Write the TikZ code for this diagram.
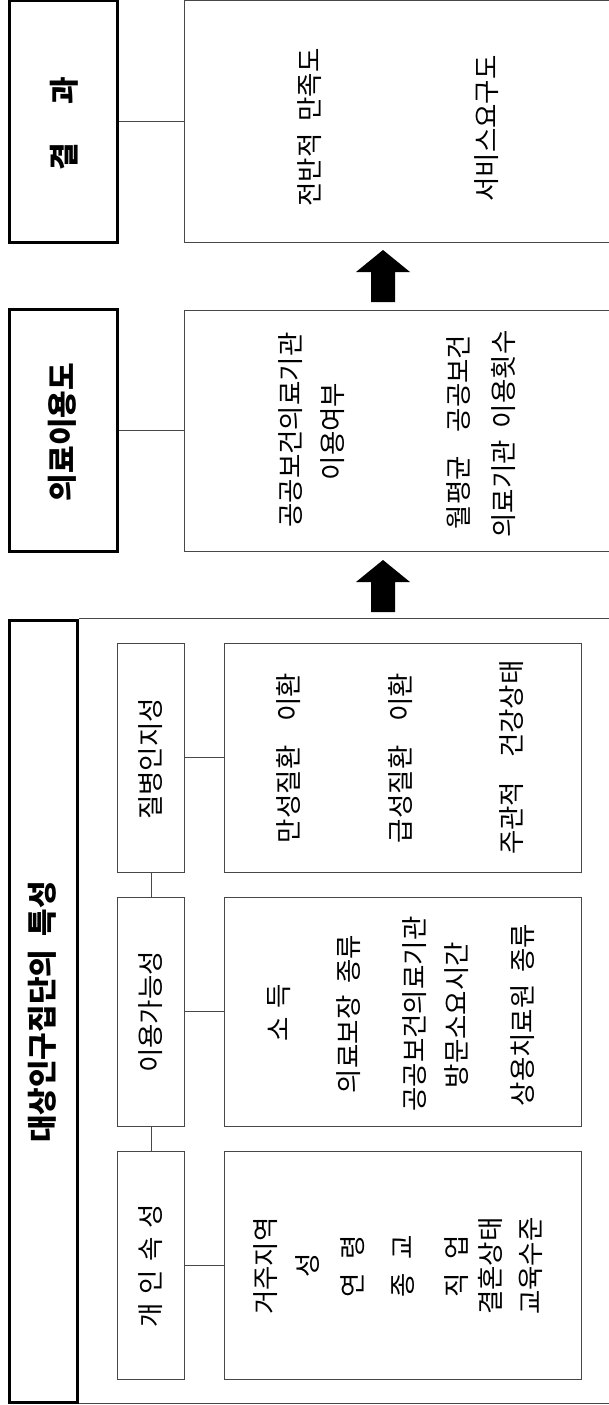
\documentclass[tikz,border=0pt]{standalone}
\usepackage{fontspec}
\newfontfamily\kr{Noto Sans CJK KR}
\newcommand\gap{\hspace{0.45em}}
\newcommand\wgap{\hspace{0.9em}}
\newcommand\gapb{\hspace{0.33em}}
\newcommand\gapc{\hspace{0.53em}}
\begin{document}
\begin{tikzpicture}[x=1pt,y=-1pt,
  thickbox/.style={draw=black,line width=3pt,inner sep=0pt},
  thinbox/.style={draw=black!72,line width=1pt,inner sep=0pt},
  conn/.style={draw=black!72,line width=1pt},
  txt/.style={font=\kr\fontsize{26.5}{30}\selectfont,rotate=90,inner sep=0pt},
  btxt/.style={font=\kr\bfseries\fontsize{30}{34}\selectfont,rotate=90,inner sep=0pt},
  blk/.style={fill=black}]
\useasboundingbox (0,0) rectangle (608,1405);
\coordinate (fr) at (620,0);
% ---- result section
\node[thickbox,minimum width=107.7pt,minimum height=241.7pt] (res) at (63.55,121.85) {};
\node[thinbox,minimum width=436pt,minimum height=241.7pt] (resc) at (402,121.85) {};
\draw[conn] (res.east) -- (resc.west);
\node[btxt] (lres) at (64,124) {결\hspace{1.27em}과};
\node[txt] (r1) at (310,127.5) {전반적\gap 만족도};
\node[txt] (r2) at (487,128.5) {서비스요구도};
% arrows
\coordinate (a1) at (383,250);
\fill[blk] (a1) -- ++(27,22) -- ++(-15,0) -- ++(0,30) -- ++(-24,0) -- ++(0,-30) -- ++(-15,0) -- cycle;
\coordinate (a2) at (383,560);
\fill[blk] (a2) -- ++(27,22) -- ++(-15,0) -- ++(0,30) -- ++(-24,0) -- ++(0,-30) -- ++(-15,0) -- cycle;
% ---- use section
\node[thickbox,minimum width=107.7pt,minimum height=242.4pt] (use) at (63.55,430.5) {};
\node[thinbox,minimum width=436pt,minimum height=241pt] (usec) at (402,430.5) {};
\draw[conn] (use.east) -- (usec.west);
\node[btxt] (luse) at (62,432) {의료이용도};
\node[txt] (u1) at (290.7,430) {공공보건의료기관};
\node[txt] (u2) at (333,431.5) {이용여부};
\node[txt] (u3) at (459,432) {월평균\wgap 공공보건};
\node[txt] (u4) at (504,434) {의료기관\gap 이용횟수};
% ---- population section
\node[thickbox,minimum width=67.8pt,minimum height=782.4pt] (grp) at (43.6,1011.2) {};
\draw[conn] (grp.north east) -- (grp.north east -| fr);
\draw[conn] (grp.south east) -- (grp.south east -| fr);
\node[btxt] (lgrp) at (42.6,1012) {대상인구집단의\gap 특성};
\node[thinbox,minimum width=67.5pt,minimum height=229pt] (c1) at (151.15,757.5) {};
\node[thinbox,minimum width=67.5pt,minimum height=229pt] (c2) at (151.15,1011.5) {};
\node[thinbox,minimum width=67.5pt,minimum height=228pt] (c3) at (151.15,1265) {};
\node[thinbox,minimum width=356.6pt,minimum height=229pt] (d1) at (403.1,757.5) {};
\node[thinbox,minimum width=356.6pt,minimum height=229pt] (d2) at (403.1,1011.5) {};
\node[thinbox,minimum width=356.6pt,minimum height=228pt] (d3) at (403.1,1265) {};
\draw[conn] (c1.south) -- (c2.north);
\draw[conn] (c2.south) -- (c3.north);
\draw[conn] (c1.east) -- (d1.west);
\draw[conn] (c2.east) -- (d2.west);
\draw[conn] (c3.east) -- (d3.west);
\node[txt] (lc1) at (151,759) {질병인지성};
\node[txt] (lc2) at (151,1012) {이용가능성};
\node[txt] (lc3) at (151,1266) {개\gapb 인\gapb 속\gapb 성};
% content d1
\node[txt] (e1) at (288.8,758) {만성질환\wgap 이환};
\node[txt] (e2) at (401,758) {급성질환\wgap 이환};
\node[txt] (e3) at (511.6,757.5) {주관적\wgap 건강상태};
% content d2
\node[txt] (f1) at (279,1013) {소\gapb 득};
\node[txt] (f2) at (349,1014) {의료보장\gap 종류};
\node[txt] (f3) at (415,1014) {공공보건의료기관};
\node[txt] (f4) at (457,1015) {방문소요시간};
\node[txt] (f5) at (523,1015) {상용치료원\gap 종류};
% content d3
\node[txt] (g1) at (265.5,1266) {거주지역};
\node[txt] (g2) at (308,1265) {성};
\node[txt] (g3) at (352.7,1266) {연\gapc 령};
\node[txt] (g4) at (403,1266) {종\gapc 교};
\node[txt] (g5) at (457,1266) {직\gapc 업};
\node[txt] (g6) at (490,1266) {결혼상태};
\node[txt] (g7) at (531,1266) {교육수준};
\end{tikzpicture}
\end{document}
